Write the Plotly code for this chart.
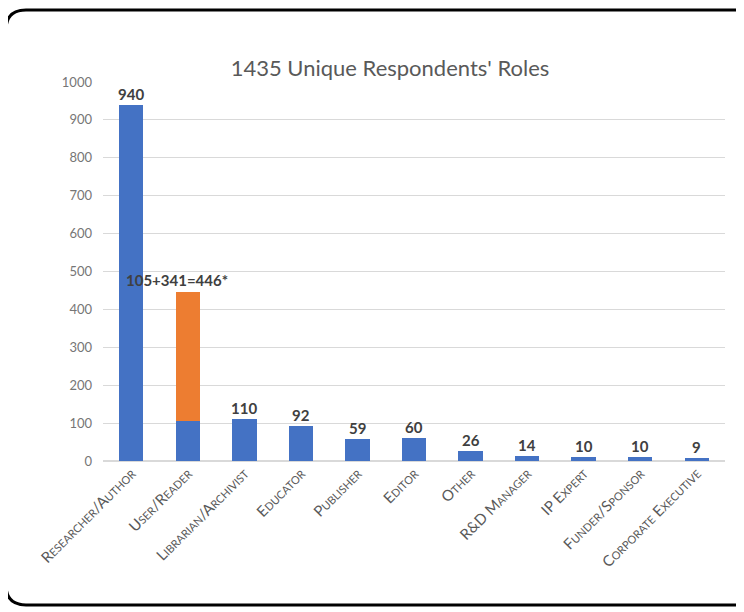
import plotly.graph_objects as go

categories = ["Researcher/Author", "User/Reader", "Librarian/Archivist", "Educator",
              "Publisher", "Editor", "Other", "R&D Manager", "IP Expert",
              "Funder/Sponsor", "Corporate Executive"]
base_values = [940, 105, 110, 92, 59, 60, 26, 14, 10, 10, 9]
extra_values = [0, 341, 0, 0, 0, 0, 0, 0, 0, 0, 0]
value_labels = ["940", "", "110", "92", "59", "60", "26", "14", "10", "10", "9"]
combined_label = "105+341=446*"
title_text = "1435 Unique Respondents' Roles"

FONT = "Lato, 'Open Sans', sans-serif"
BLUE = "#4472C4"
ORANGE = "#ED7D31"
GRAY = "#595959"

OFF = 8  # page body margin offset
W, H = 744 - OFF, 612 - OFF
ml, mt = 103 - OFF, 82 - OFF
mr = W - (725 - OFF)
mb = H - (461 - OFF)
pw, ph = W - ml - mr, H - mt - mb

fig = go.Figure()
fig.add_trace(go.Bar(x=categories, y=base_values, marker_color=BLUE, width=0.43,
                     marker_line_width=0, hoverinfo="x+y"))
fig.add_trace(go.Bar(x=categories, y=extra_values, marker_color=ORANGE, width=0.43,
                     marker_line_width=0, hoverinfo="x+y"))

for c, v, e, lab in zip(categories, base_values, extra_values, value_labels):
    if lab:
        fig.add_annotation(x=c, y=v + e, text="<b>" + lab + "</b>", showarrow=False,
                           yanchor="bottom", yshift=0,
                           font=dict(family=FONT, size=15, color="#404040"))
fig.add_annotation(x=categories[1], y=base_values[1] + extra_values[1],
                   text="<b>" + combined_label + "</b>", showarrow=False,
                   yanchor="bottom", yshift=1, xshift=-11,
                   font=dict(family=FONT, size=15, color="#404040"))

def px(x):
    return (x - OFF - ml) / pw

def py(y):
    return 1 - (y - OFF - mt) / ph

x0, x1, y0, y1, r = 6, 765, 10, 605, 20
path = (f"M {px(x0 + r)} {py(y0)} L {px(x1 - r)} {py(y0)} "
        f"Q {px(x1)} {py(y0)} {px(x1)} {py(y0 + r)} "
        f"L {px(x1)} {py(y1 - r)} Q {px(x1)} {py(y1)} {px(x1 - r)} {py(y1)} "
        f"L {px(x0 + r)} {py(y1)} Q {px(x0)} {py(y1)} {px(x0)} {py(y1 - r)} "
        f"L {px(x0)} {py(y0 + r)} Q {px(x0)} {py(y0)} {px(x0 + r)} {py(y0)} Z")
fig.add_shape(type="path", path=path, xref="paper", yref="paper",
              line=dict(color="black", width=3), layer="above")

fig.update_layout(
    width=W, height=H,
    margin=dict(l=ml, r=mr, t=mt, b=mb, autoexpand=False),
    barmode="stack",
    bargap=0.57,
    showlegend=False,
    plot_bgcolor="white",
    paper_bgcolor="white",
    title=dict(text=title_text, x=(390 - OFF) / W, xanchor="center",
               y=1 - (68 - OFF) / H, yanchor="middle",
               font=dict(family=FONT, size=22, color=GRAY)),
    font=dict(family=FONT, color=GRAY),
)
fig.update_yaxes(range=[0, 1000], dtick=100, showgrid=True, gridcolor="#D9D9D9",
                 gridwidth=1, zeroline=True, zerolinecolor="#D9D9D9", showline=False,
                 ticks="", ticklen=0, automargin=False, ticklabelstandoff=10,
                 tickfont=dict(family=FONT, size=13, color="#767676"))
fig.update_xaxes(tickangle=-45, showline=False, ticks="", automargin=False,
                 tickfont=dict(family=FONT, size=15, color=GRAY, variant="small-caps"))

fig.write_html("out.html")
